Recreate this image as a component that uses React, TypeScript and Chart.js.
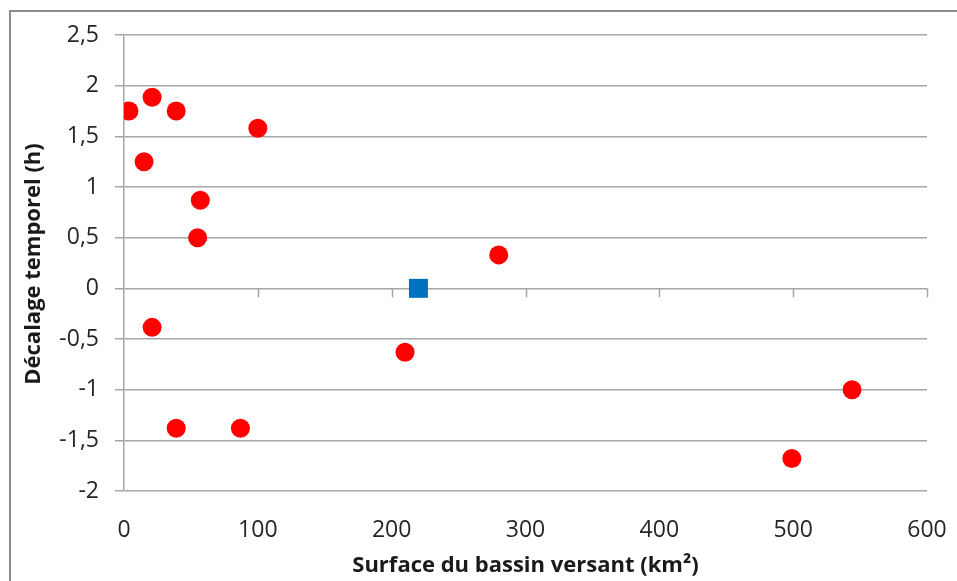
import React, { useEffect, useRef } from "react";
import { Chart, registerables } from "chart.js";

Chart.register(...registerables);

const surfaceRed = [3.7, 21, 39, 15, 100, 57, 55, 280, 21, 210, 39, 87, 544, 499];
const decalageRed = [1.75, 1.885, 1.75, 1.25, 1.58, 0.87, 0.5, 0.33, -0.385, -0.63, -1.38, -1.38, -1.0, -1.68];
const surfaceBlue = [220];
const decalageBlue = [0];

const xTitle = "Surface du bassin versant (km²)";
const yTitle = "Décalage temporel (h)";

const FONT = "'Open Sans', 'Noto Sans', sans-serif";
const GRID = "#a6a6a6";

const xTickMarks = {
  id: "xTickMarks",
  beforeDatasetsDraw(chart: any) {
    const { ctx, scales } = chart;
    const xs = scales.x;
    const ys = scales.y;
    const py = ys.getPixelForValue(0);
    ctx.save();
    ctx.strokeStyle = GRID;
    ctx.lineWidth = 1.5;
    xs.ticks.forEach((t: any) => {
      if (t.value === 0) return;
      const px = Math.round(xs.getPixelForValue(t.value)) + 0.5;
      ctx.beginPath();
      ctx.moveTo(px, py);
      ctx.lineTo(px, py + 9);
      ctx.stroke();
    });
    ctx.restore();
  },
};

const yTitlePlugin = {
  id: "yTitlePlugin",
  afterDraw(chart: any) {
    const { ctx, chartArea } = chart;
    ctx.save();
    ctx.font = `bold 22px ${FONT}`;
    ctx.fillStyle = "#1a1a1a";
    ctx.textAlign = "center";
    ctx.textBaseline = "middle";
    ctx.translate(34, (chartArea.top + chartArea.bottom) / 2 + 1);
    ctx.rotate(-Math.PI / 2);
    ctx.fillText(yTitle, 0, 0);
    ctx.restore();
  },
};

export default function App() {
  const ref = useRef<HTMLCanvasElement>(null);
  useEffect(() => {
    if (!ref.current) return;
    const chart = new Chart(ref.current, {
      type: "scatter",
      data: {
        datasets: [
          {
            label: "rouge",
            data: surfaceRed.map((x, i) => ({ x, y: decalageRed[i] })),
            backgroundColor: "#ff0000",
            borderColor: "#ff0000",
            borderWidth: 0,
            pointRadius: 9.5,
            pointStyle: "circle",
          },
          {
            label: "bleu",
            data: surfaceBlue.map((x, i) => ({ x, y: decalageBlue[i] })),
            backgroundColor: "#0070c0",
            borderColor: "#0070c0",
            borderWidth: 0,
            pointRadius: 13.4,
            pointStyle: "rect",
          },
        ],
      },
      options: {
        animation: false,
        responsive: false,
        maintainAspectRatio: false,
        layout: { padding: { top: 35, right: 30, left: 0, bottom: 0 } },
        plugins: { legend: { display: false }, tooltip: { enabled: false } },
        scales: {
          x: {
            type: "linear",
            min: 0,
            max: 600,
            ticks: { stepSize: 100, color: "#262626", font: { family: FONT, size: 23 }, padding: 18 },
            grid: { display: false },
            border: { display: false },
            title: {
              display: true,
              text: xTitle,
              color: "#1a1a1a",
              font: { family: FONT, size: 22, weight: "bold" },
              padding: { top: 0, bottom: 2 },
            },
            afterFit: (s: any) => {
              s.height = 90;
              s.paddingLeft = 0;
              s.paddingRight = 0;
            },
          },
          y: {
            type: "linear",
            min: -2,
            max: 2.5,
            ticks: {
              stepSize: 0.5,
              color: "#262626",
              font: { family: FONT, size: 23 },
              padding: 16,
              callback: (v: any) => String(v).replace(".", ","),
            },
            grid: { color: GRID, lineWidth: 1.5, tickLength: 9, drawTicks: true },
            border: { display: true, color: GRID, width: 1.5 },
            title: { display: false },
            afterFit: (s: any) => {
              s.width = 124;
              s.paddingTop = 0;
              s.paddingBottom = 0;
            },
          },
        },
      },
      plugins: [xTickMarks, yTitlePlugin],
    });
    return () => chart.destroy();
  }, []);
  return (
    <div style={{ position: "fixed", left: 0, top: 0, width: 957, height: 581, overflow: "hidden", background: "#fff" }}>
      <canvas ref={ref} width={957} height={581} style={{ position: "absolute", left: 0, top: 0 }} />
      <div
        style={{
          position: "absolute",
          left: 9,
          top: 10,
          width: 1100,
          height: 800,
          border: "2px solid #8c8c8c",
          boxSizing: "border-box",
          pointerEvents: "none",
        }}
      />
    </div>
  );
}
